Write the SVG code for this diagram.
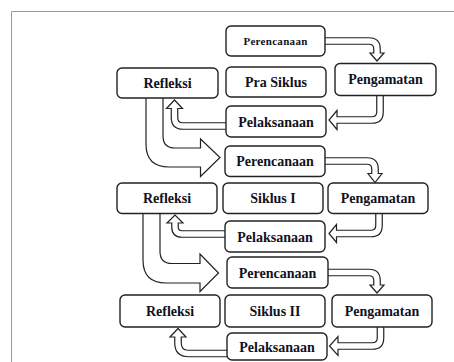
<svg xmlns="http://www.w3.org/2000/svg" width="454" height="362" viewBox="0 0 454 362">
<style>
.frame{fill:none;stroke:#9a9a9a;stroke-width:1}
.box{fill:#fff;stroke:#222;stroke-width:1.4}
.arr{fill:#fff;stroke:#222;stroke-width:1.2;stroke-linejoin:miter}
.t{font-family:"Liberation Serif","Times New Roman",serif;font-weight:bold;font-size:14px;fill:#111122;text-anchor:middle}
.ts{font-size:11px;letter-spacing:0.3px}
</style>
<rect width="454" height="362" fill="#fff"/>
<path class="frame" d="M11.5,362 V11.5 H454"/>
<g id="connectors">
<path class="arr" d="M323,37.75 H369 Q380.25,37.75 380.25,49 V53 H384 L377,61 L370,53 H373.75 V49 Q373.75,44.25 369,44.25 H323"/>
<path class="arr" d="M383.25,94 V112 Q383.25,123.25 372,123.25 H337 V129.5 L329,120 L337,110.5 V116.75 H372 Q376.75,116.75 376.75,112 V94"/>
<path class="arr" d="M228,129.25 H183 Q171.25,129.25 171.25,117.5 V108.5 H166.5 L174.5,100 L182.5,108.5 H177.75 V118 Q177.75,122.75 182.5,122.75 H228"/>
<path class="arr" d="M146,96 V144 Q146,167 169,167 H200.5 V176.5 L220,157.5 L200.5,139 V148 H175 Q163,148 163,136 V96"/>
<path class="arr" d="M323,157.75 H367 Q378.25,157.75 378.25,169 V173.5 H382 L375,182.5 L368,173.5 H371.75 V169 Q371.75,164.25 367,164.25 H323"/>
<path class="arr" d="M382.25,212 V225.5 Q382.25,236.75 371,236.75 H336.5 V242.5 L329,233.5 L336.5,224.5 V230.25 H371 Q375.75,230.25 375.75,225.5 V212"/>
<path class="arr" d="M227,237.25 H182 Q171.75,237.25 171.75,227 V223 H167 L175,215 L183,223 H178.25 V227 Q178.25,230.75 182,230.75 H227"/>
<path class="arr" d="M143,212 V260 Q143,283 166,283 H200 V291.5 L218.5,273 L200,254 V263.5 H172 Q160,263.5 160,251.5 V212"/>
<path class="arr" d="M326,269.25 H369 Q380.25,269.25 380.25,280.5 V285 H384 L377,293 L370,285 H373.75 V280.5 Q373.75,275.75 369,275.75 H326"/>
<path class="arr" d="M383.75,325 V338 Q383.75,349.25 372.5,349.25 H338 V355.5 L329.5,346 L338,336.5 V342.75 H372.5 Q377.25,342.75 377.25,338 V325"/>
<path class="arr" d="M229,356.75 H189 Q174.75,356.75 174.75,343 V337 H170 L178,328.5 L186,337 H181.25 V343 Q181.25,350.25 188,350.25 H229"/>
</g>
<g id="perencanaan-0"><rect class="box" x="226" y="26" width="99" height="30" rx="5"/><text class="t ts" x="275.5" y="45">Perencanaan</text></g>
<g id="pengamatan-0"><rect class="box" x="335" y="63.5" width="101" height="32" rx="5"/><text class="t" x="385.5" y="84">Pengamatan</text></g>
<g id="pra-siklus"><rect class="box" x="226" y="67" width="100" height="30" rx="5"/><text class="t" x="276" y="87">Pra Siklus</text></g>
<g id="refleksi-0"><rect class="box" x="117" y="68" width="101" height="30" rx="5"/><text class="t" x="167.5" y="88">Refleksi</text></g>
<g id="pelaksanaan-0"><rect class="box" x="226" y="106" width="100" height="31" rx="5"/><text class="t" x="276" y="126.5">Pelaksanaan</text></g>
<g id="perencanaan-1"><rect class="box" x="225" y="146" width="100" height="30.5" rx="5"/><text class="t" x="275" y="166">Perencanaan</text></g>
<g id="refleksi-1"><rect class="box" x="117" y="183" width="100" height="30.5" rx="5"/><text class="t" x="167" y="203">Refleksi</text></g>
<g id="siklus-1"><rect class="box" x="223" y="183" width="100" height="30.5" rx="5"/><text class="t" x="273" y="203">Siklus I</text></g>
<g id="pengamatan-1"><rect class="box" x="328" y="183" width="100" height="30.5" rx="5"/><text class="t" x="378" y="203">Pengamatan</text></g>
<g id="pelaksanaan-1"><rect class="box" x="225" y="221" width="100" height="31" rx="5"/><text class="t" x="275" y="241.5">Pelaksanaan</text></g>
<g id="perencanaan-2"><rect class="box" x="227" y="257" width="101" height="31" rx="5"/><text class="t" x="277.5" y="277.5">Perencanaan</text></g>
<g id="refleksi-2"><rect class="box" x="120" y="295" width="100" height="32" rx="5"/><text class="t" x="170" y="316">Refleksi</text></g>
<g id="siklus-2"><rect class="box" x="225" y="295" width="100" height="32" rx="5"/><text class="t" x="275" y="316">Siklus II</text></g>
<g id="pengamatan-2"><rect class="box" x="332" y="295" width="100" height="32" rx="5"/><text class="t" x="382" y="316">Pengamatan</text></g>
<g id="pelaksanaan-2"><rect class="box" x="227" y="333" width="100" height="27" rx="5"/><text class="t" x="277" y="351.5">Pelaksanaan</text></g>
</svg>
